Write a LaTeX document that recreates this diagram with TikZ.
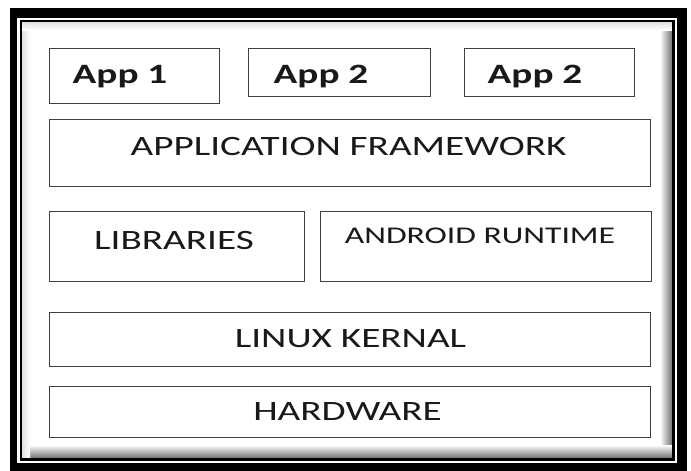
\documentclass[tikz,border=0pt]{standalone}
\usepackage{fontspec}
\newfontfamily\layerfont[FakeStretch=1.4]{Carlito}
\usepackage{tikz}

\tikzset{
	layerbox/.style = {draw = black!75, line width = 1.6pt, inner sep = 0pt, fill = white},
	layertext/.style = {font = \layerfont\fontsize{28}{30}\selectfont, text = black!90, anchor = base, inner sep = 0pt},
	apptext/.style = {layertext, font = \layerfont\bfseries\fontsize{28}{30}\selectfont},
}

\begin{document}
\begin{tikzpicture}[x = 1pt, y = -1pt]
					\def\xMAX{691};
					\def\yMAX{471};

					\useasboundingbox (0,0) rectangle (\xMAX,\yMAX);
					\fill [white] (0,0) rectangle (\xMAX,\yMAX);

					\begin{scope}
						\fill [black] (10,8) rectangle (687,\yMAX);
						\fill [white] (17,17.5) rectangle (677,463);
						\fill [white] (22,22) rectangle (672,458);
						\shade [left color = white, right color = black!55] (660,22) rectangle (672,458);
						\shade [top color = white, bottom color = black!55] (22,445) rectangle (672,458);
						\shade [left color = black!12, right color = white] (22,22) rectangle (30,458);
						\shade [top color = black!12, bottom color = white] (22,22) rectangle (672,30);
						\draw [black, line width = 2.5pt] (20.8,20.8) rectangle (673.5,459.5);
					\end{scope}

					\begin{scope}
						\node [layerbox, minimum width = 170pt, minimum height = 55pt] (app1) at (134.5,76) {};
						\node [layerbox, minimum width = 182pt, minimum height = 48pt] (app2) at (339.5,72.5) {};
						\node [layerbox, minimum width = 170pt, minimum height = 48pt] (app3) at (549.5,72.5) {};
						\node [layerbox, minimum width = 601pt, minimum height = 67pt] (framework) at (350,153) {};
						\node [layerbox, minimum width = 255pt, minimum height = 70pt] (libraries) at (177,246.5) {};
						\node [layerbox, minimum width = 331pt, minimum height = 70pt] (runtime) at (486,246.5) {};
						\node [layerbox, minimum width = 601pt, minimum height = 54pt] (kernal) at (350,339.5) {};
						\node [layerbox, minimum width = 601pt, minimum height = 51pt] (hardware) at (350,412) {};
					\end{scope}

					\begin{scope}
						\node [apptext] (app1-text) at (120,83) {App 1};
						\node [apptext] (app2-text) at (321,83) {App 2};
						\node [apptext] (app3-text) at (535,83) {App 2};
						\node [layertext] (framework-text) at (348.5,155) {APPLICATION FRAMEWORK};
						\node [layertext] (libraries-text) at (174,249) {LIBRARIES};
						\node [layertext, font = \layerfont\fontsize{24}{26}\selectfont] (runtime-text) at (480,243) {ANDROID RUNTIME};
						\node [layertext] (kernal-text) at (350.5,347) {LINUX KERNAL};
						\node [layertext] (hardware-text) at (347.5,420) {HARDWARE};
					\end{scope}

				\end{tikzpicture}
\end{document}
